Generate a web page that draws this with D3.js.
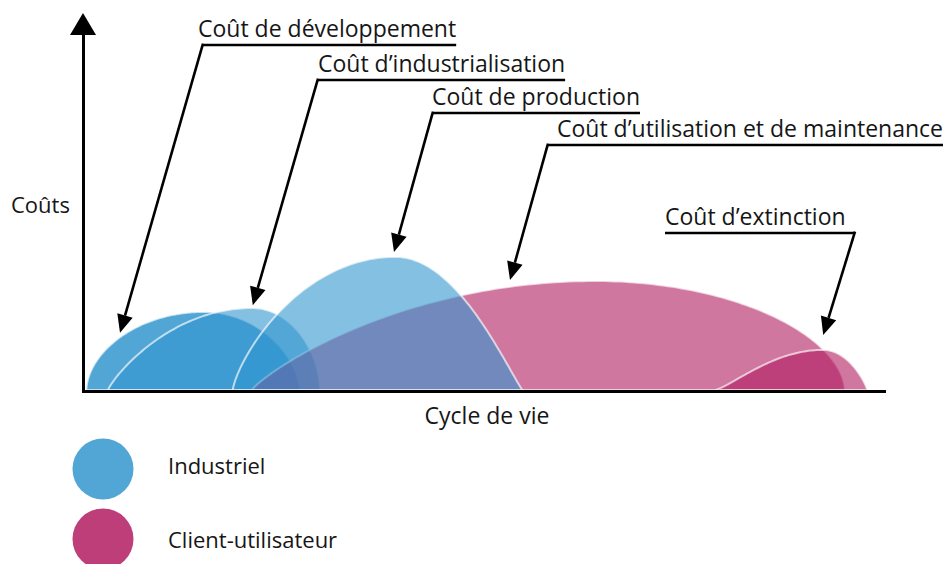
<!DOCTYPE html>
<html>
<head>
<meta charset="utf-8">
<script src="https://cdn.jsdelivr.net/npm/d3@7"></script>
<style>
  body { margin: 0; background: #fff; }
  text { font-family: "Open Sans", sans-serif; fill: #161616; }
</style>
</head>
<body>
<svg id="chart" width="943" height="564"></svg>
<script>
// phases du cycle de vie (ordre chronologique)
var phases = ["Coût de développement", "Coût d’industrialisation", "Coût de production",
              "Coût d’utilisation et de maintenance", "Coût d’extinction"];
var phaseGroup = ["Industriel", "Industriel", "Industriel", "Client-utilisateur", "Client-utilisateur"];
var phaseStart = [0.3, 3, 18.6, 21, 78.9];     // début sur le cycle de vie (0-100)
var phasePeak  = [15, 21, 38.9, 63.9, 92.4];   // position du maximum
var phaseEnd   = [27, 29.5, 54.8, 95.1, 97.9]; // fin
var phaseCost  = [22, 23.1, 37.5, 30.7, 11.3]; // coût maximum (0-100)
var riseShape  = [0.55, 0.85, 0.75, 0.85, 1.3];
var fallShape  = [0.6, 0.55, 1.1, 0.55, 0.83];
// où pointent les flèches (cycle, coût)
var arrowCycle = [4.5, 21.1, 38.75, 53.25, 92.4];
var arrowCost  = [16.1, 23.9, 38.9, 31, 15.5];

var groups = ["Industriel", "Client-utilisateur"];
var groupColor = ["#3296cf", "#b11c61"];

// mise en page des étiquettes (pixels)
var labelX    = [198, 318, 432, 557, 665];
var labelY    = [37, 72, 105, 137, 225];
var leaderEnd = ["left", "left", "left", "left", "right"];
var leaderX   = [203, 318, 433, 548, 855];
var drawOrder = [0, 1, 3, 2, 4];
var fillOpacity = [0.85, 0.6, 0.6, 0.6, 0.6];

var svg = d3.select("#chart");

var x = d3.scaleLinear().domain([0, 100]).range([84, 884]);
var y = d3.scaleLinear().domain([0, 100]).range([390, 35]);
var color = d3.scaleOrdinal().domain(groups).range(groupColor);

function domeCost(i, t, side) {
  // t : 1 au pied, 0 au sommet
  var k = side == "rise" ? riseShape[i] : fallShape[i];
  return phaseCost[i] * Math.pow(Math.max(0, 1 - t * t), k);
}

function domePoints(i) {
  var s = phaseStart[i], p = phasePeak[i], e = phaseEnd[i];
  var pts = [], n = 80;
  d3.range(n + 1).forEach(function(j) {
    var t = Math.cos(j / n * Math.PI / 2);
    pts.push([p - t * (p - s), domeCost(i, t, "rise")]);
  });
  d3.range(1, n + 1).forEach(function(j) {
    var t = Math.sin(j / n * Math.PI / 2);
    pts.push([p + t * (e - p), domeCost(i, t, "fall")]);
  });
  return pts;
}

var line = d3.line()
  .x(function(d) { return x(d[0]); })
  .y(function(d) { return y(d[1]); });

var domes = svg.append("g").attr("class", "domes");
drawOrder.forEach(function(i) {
  domes.append("path")
    .attr("d", line(domePoints(i)) + "Z")
    .attr("fill", color(phaseGroup[i]))
    .attr("fill-opacity", fillOpacity[i])
    .attr("stroke", "#fff")
    .attr("stroke-opacity", 0.65)
    .attr("stroke-width", 2);
});

// axes
var xAxis = svg.append("g")
  .attr("transform", "translate(0,391.5)")
  .call(d3.axisBottom(x).ticks(0).tickSizeOuter(0));
xAxis.select(".domain").attr("stroke", "#000").attr("stroke-width", 3.2)
  .attr("d", "M" + (x(0) - 2) + ",0H" + (x(100) + 2));

var yAxis = svg.append("g")
  .attr("transform", "translate(" + (x(0) - 0.5) + ",0)")
  .call(d3.axisLeft(y).ticks(0).tickSizeOuter(0));
yAxis.select(".domain").attr("stroke", "#000").attr("stroke-width", 3)
  .attr("d", "M0," + (y(0) + 3) + "V" + (y(100) - 1));

svg.append("path")
  .attr("d", "M" + (x(0) - 1) + "," + (y(100) - 22) + "L" + (x(0) - 14) + "," + y(100) +
             "L" + (x(0) + 12) + "," + y(100) + "Z")
  .attr("fill", "#000");

svg.append("text").attr("x", 11).attr("y", 213)
  .style("font-size", "22px").text("Coûts");
svg.append("text").attr("x", (x(0) + x(100)) / 2 + 3).attr("y", 424)
  .attr("text-anchor", "middle")
  .style("font-size", "23px").text("Cycle de vie");

// annotations
var notes = svg.append("g").attr("class", "notes");
phases.forEach(function(name, i) {
  var t = notes.append("text")
    .attr("x", labelX[i]).attr("y", labelY[i])
    .style("font-size", "23px")
    .text(name);
  var w = t.node().getComputedTextLength();
  var uy = labelY[i] + 8;
  var x1 = leaderEnd[i] == "left" ? leaderX[i] : labelX[i];
  var x2 = leaderEnd[i] == "left" ? labelX[i] + w : leaderX[i];
  notes.append("line")
    .attr("x1", x1).attr("x2", x2).attr("y1", uy).attr("y2", uy)
    .attr("stroke", "#000").attr("stroke-width", 2.6);

  var tx = x(arrowCycle[i]), ty = y(arrowCost[i]);
  var ang = Math.atan2(ty - uy, tx - leaderX[i]);
  var len = 18, hw = 8;
  var bx = tx - len * Math.cos(ang), by = ty - len * Math.sin(ang);
  notes.append("line")
    .attr("x1", leaderX[i]).attr("y1", uy - 1.3)
    .attr("x2", bx).attr("y2", by)
    .attr("stroke", "#000").attr("stroke-width", 2.6);
  notes.append("path")
    .attr("d", "M" + tx + "," + ty +
               "L" + (bx + hw * Math.sin(ang)) + "," + (by - hw * Math.cos(ang)) +
               "L" + (bx - hw * Math.sin(ang)) + "," + (by + hw * Math.cos(ang)) + "Z")
    .attr("fill", "#000");
});

// légende
var legend = svg.append("g").attr("class", "legend");
groups.forEach(function(g, i) {
  legend.append("circle")
    .attr("cx", 103).attr("cy", 469 + i * 70).attr("r", 30.5)
    .attr("fill", color(g)).attr("fill-opacity", 0.85);
  legend.append("text")
    .attr("x", 168).attr("y", 474 + i * 74)
    .style("font-size", "22px")
    .text(g);
});
</script>
</body>
</html>
